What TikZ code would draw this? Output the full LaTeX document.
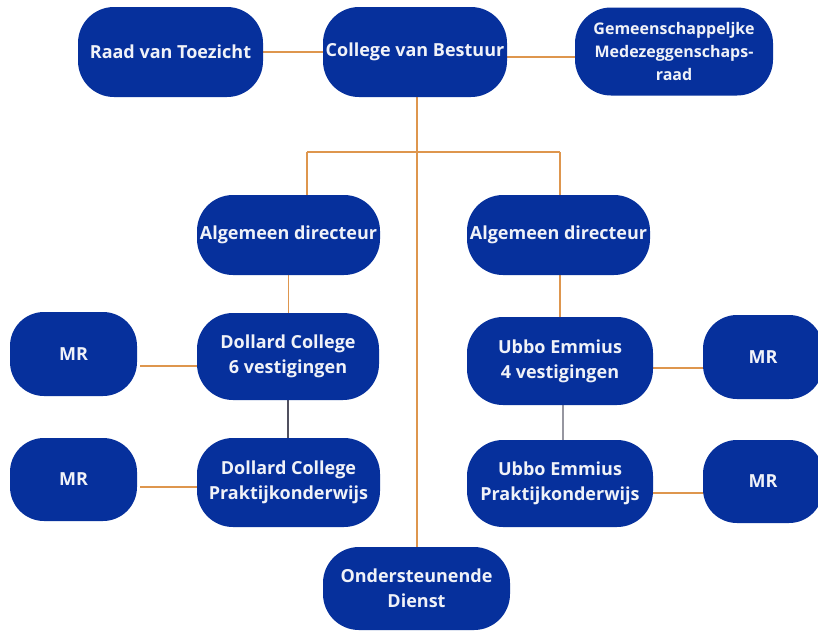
\documentclass[tikz,border=0pt]{standalone}
\usepackage{fontspec}
\setmainfont{Open Sans}
\usetikzlibrary{backgrounds}
\definecolor{boxblue}{RGB}{6,48,156}
\definecolor{lineorange}{RGB}{222,150,78}
\definecolor{linedark}{RGB}{80,80,95}
\definecolor{linegray}{RGB}{150,150,160}
\definecolor{textwhite}{RGB}{240,242,248}
\tikzset{
  box/.style={fill=boxblue, draw=none, rounded corners=36pt, inner sep=0pt,
    text=textwhite, font=\fontsize{18}{25}\selectfont\bfseries, align=center},
  conn/.style={draw=lineorange, line width=1.8pt},
  conndark/.style={draw=linedark, line width=1.8pt},
  conngray/.style={draw=linegray, line width=1.6pt},
}
\begin{document}
\begin{tikzpicture}[x=1pt,y=-1pt]
\useasboundingbox (0,0) rectangle (818,635);
\node[box, minimum width=185pt, minimum height=90pt] (rvt) at (170.5,52) {Raad van Toezicht};
\node[box, minimum width=184pt, minimum height=90pt] (cvb) at (415,52) {College van Bestuur};
\node[box, minimum width=198pt, minimum height=88pt, font=\fontsize{16}{23}\selectfont\bfseries] (gmr) at (674,51.5) {Gemeenschappeljke\\Medezeggenschaps-\\raad};
\node[box, minimum width=183pt, minimum height=80pt] (ad1) at (288.5,235) {Algemeen directeur};
\node[box, minimum width=183pt, minimum height=80pt] (ad2) at (558.5,235) {Algemeen directeur};
\node[box, minimum width=182pt, minimum height=87pt] (dc6) at (288,356.5) {Dollard College\\6 vestigingen};
\node[box, minimum width=183pt, minimum height=89pt] (dcp) at (288.5,482.5) {Dollard College\\Praktijkonderwijs};
\node[box, minimum width=127pt, minimum height=84pt, rounded corners=34pt] (mr1) at (73.5,354) {MR};
\node[box, minimum width=127pt, minimum height=83pt, rounded corners=34pt] (mr2) at (73.5,479.5) {MR};
\node[box, minimum width=186pt, minimum height=88pt] (ue4) at (560,361) {Ubbo Emmius\\4 vestigingen};
\node[box, minimum width=186pt, minimum height=87pt] (uep) at (560,483.5) {Ubbo Emmius\\Praktijkonderwijs};
\node[box, minimum width=120pt, minimum height=84pt, rounded corners=34pt] (mr3) at (763,357) {MR};
\node[box, minimum width=120pt, minimum height=83pt, rounded corners=34pt] (mr4) at (763,481.5) {MR};
\node[box, minimum width=187pt, minimum height=83pt] (ond) at (416.5,588.5) {Ondersteunende\\Dienst};
\begin{scope}[on background layer]
\fill[white] (0,0) rectangle (818,635);
\coordinate (bl) at (307,152);
\coordinate (br) at (560,152);
\draw[conn] (rvt.east) -- (cvb.west);
\draw[conn] ([yshift=-5]cvb.east) -- ([yshift=-5]cvb.east -| gmr.west);
\draw[conn] ([xshift=2]cvb.south) -- ([xshift=2]cvb.south |- ond.north);
\draw[conn] (bl) -- (br);
\draw[conn] (bl) -- (bl |- ad1.north);
\draw[conn] (br) -- (br |- ad2.north);
\draw[conn] (ad1.south) -- (ad1.south |- dc6.north);
\draw[conn] ([xshift=1.5]ad2.south) -- ([xshift=1.5]ad2.south |- ue4.north);
\draw[conndark] (dc6.south) -- (dc6.south |- dcp.north);
\draw[conngray] ([xshift=3]ue4.south) -- ([xshift=3]ue4.south |- uep.north);
\draw[conn] ([xshift=3,yshift=-12]mr1.east) -- ([xshift=3,yshift=-12]mr1.east -| dc6.west);
\draw[conn] ([xshift=3,yshift=-7.5]mr2.east) -- ([xshift=3,yshift=-7.5]mr2.east -| dcp.west);
\draw[conn] ([yshift=-7]ue4.east) -- ([yshift=-7]ue4.east -| mr3.west);
\draw[conn] ([yshift=-9.5]uep.east) -- ([xshift=10,yshift=-9.5]uep.east -| mr4.west);
\end{scope}
\end{tikzpicture}
\end{document}
